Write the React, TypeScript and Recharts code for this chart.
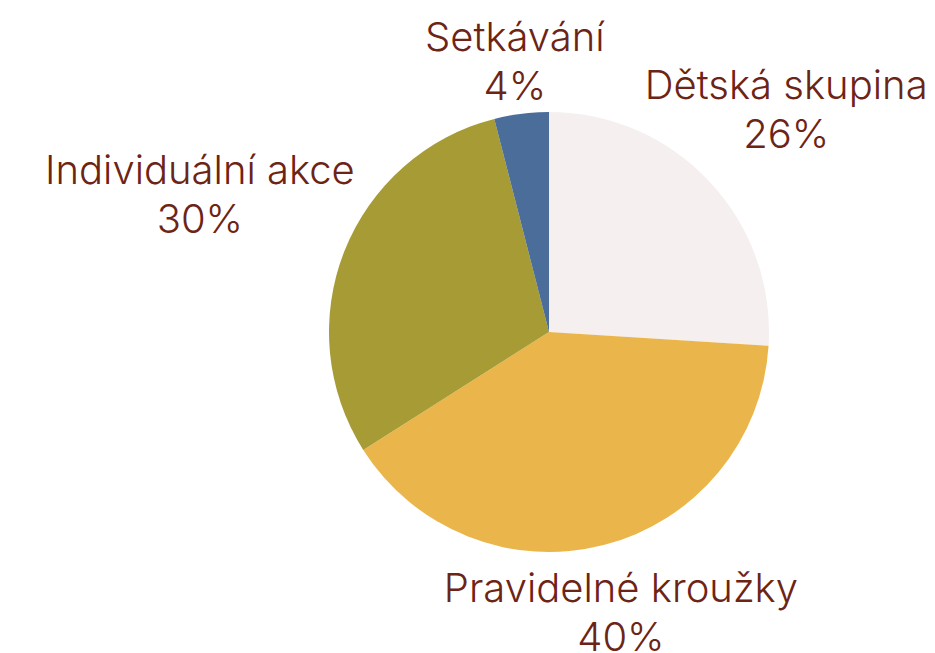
import React from "react";
import { PieChart, Pie, Cell } from "recharts";

const categories = ["Dětská skupina", "Pravidelné kroužky", "Individuální akce", "Setkávání"];
const values = [26, 40, 30, 4];
const colors = ["#F5EFEF", "#EAB64B", "#A69B34", "#4B6D99"];

const data = categories.map((name, i) => ({ name, value: values[i] }));

const RADIAN = Math.PI / 180;
const FONT = 40;
const LINE = 49;
const TEXT_COLOR = "#6C2416";

const renderLabel = (props: any) => {
  const { cx, cy, midAngle, outerRadius, name, value } = props;
  const c = Math.cos(-midAngle * RADIAN);
  const s = Math.sin(-midAngle * RADIAN);
  const hw = (name.length * 22.2) / 2;
  const extra = 42 + 0.58 * c * c * hw + 0.1 * hw;
  const r = outerRadius + extra;
  const x = cx + r * c;
  const y = cy + r * s;
  return (
    <text
      x={x}
      y={y}
      textAnchor="middle"
      fill={TEXT_COLOR}
      fontSize={FONT}
      fontWeight={300}
      fontFamily="Inter, 'Noto Sans', sans-serif"
    >
      <tspan x={x} dy={-LINE / 2 + FONT * 0.36}>{name}</tspan>
      <tspan x={x} dy={LINE}>{`${value}%`}</tspan>
    </text>
  );
};

export default function App() {
  return (
    <div style={{ position: "absolute", left: 0, top: 0, width: 935, height: 653, background: "#fff" }}>
      <PieChart width={935} height={653} margin={{ top: 0, right: 0, bottom: 0, left: 0 }}>
        <Pie
          data={data}
          dataKey="value"
          nameKey="name"
          cx={549}
          cy={332}
          outerRadius={220}
          startAngle={90}
          endAngle={-270}
          stroke="none"
          label={renderLabel}
          labelLine={false}
          isAnimationActive={false}
        >
          {data.map((d, i) => (
            <Cell key={d.name} fill={colors[i]} />
          ))}
        </Pie>
      </PieChart>
    </div>
  );
}
